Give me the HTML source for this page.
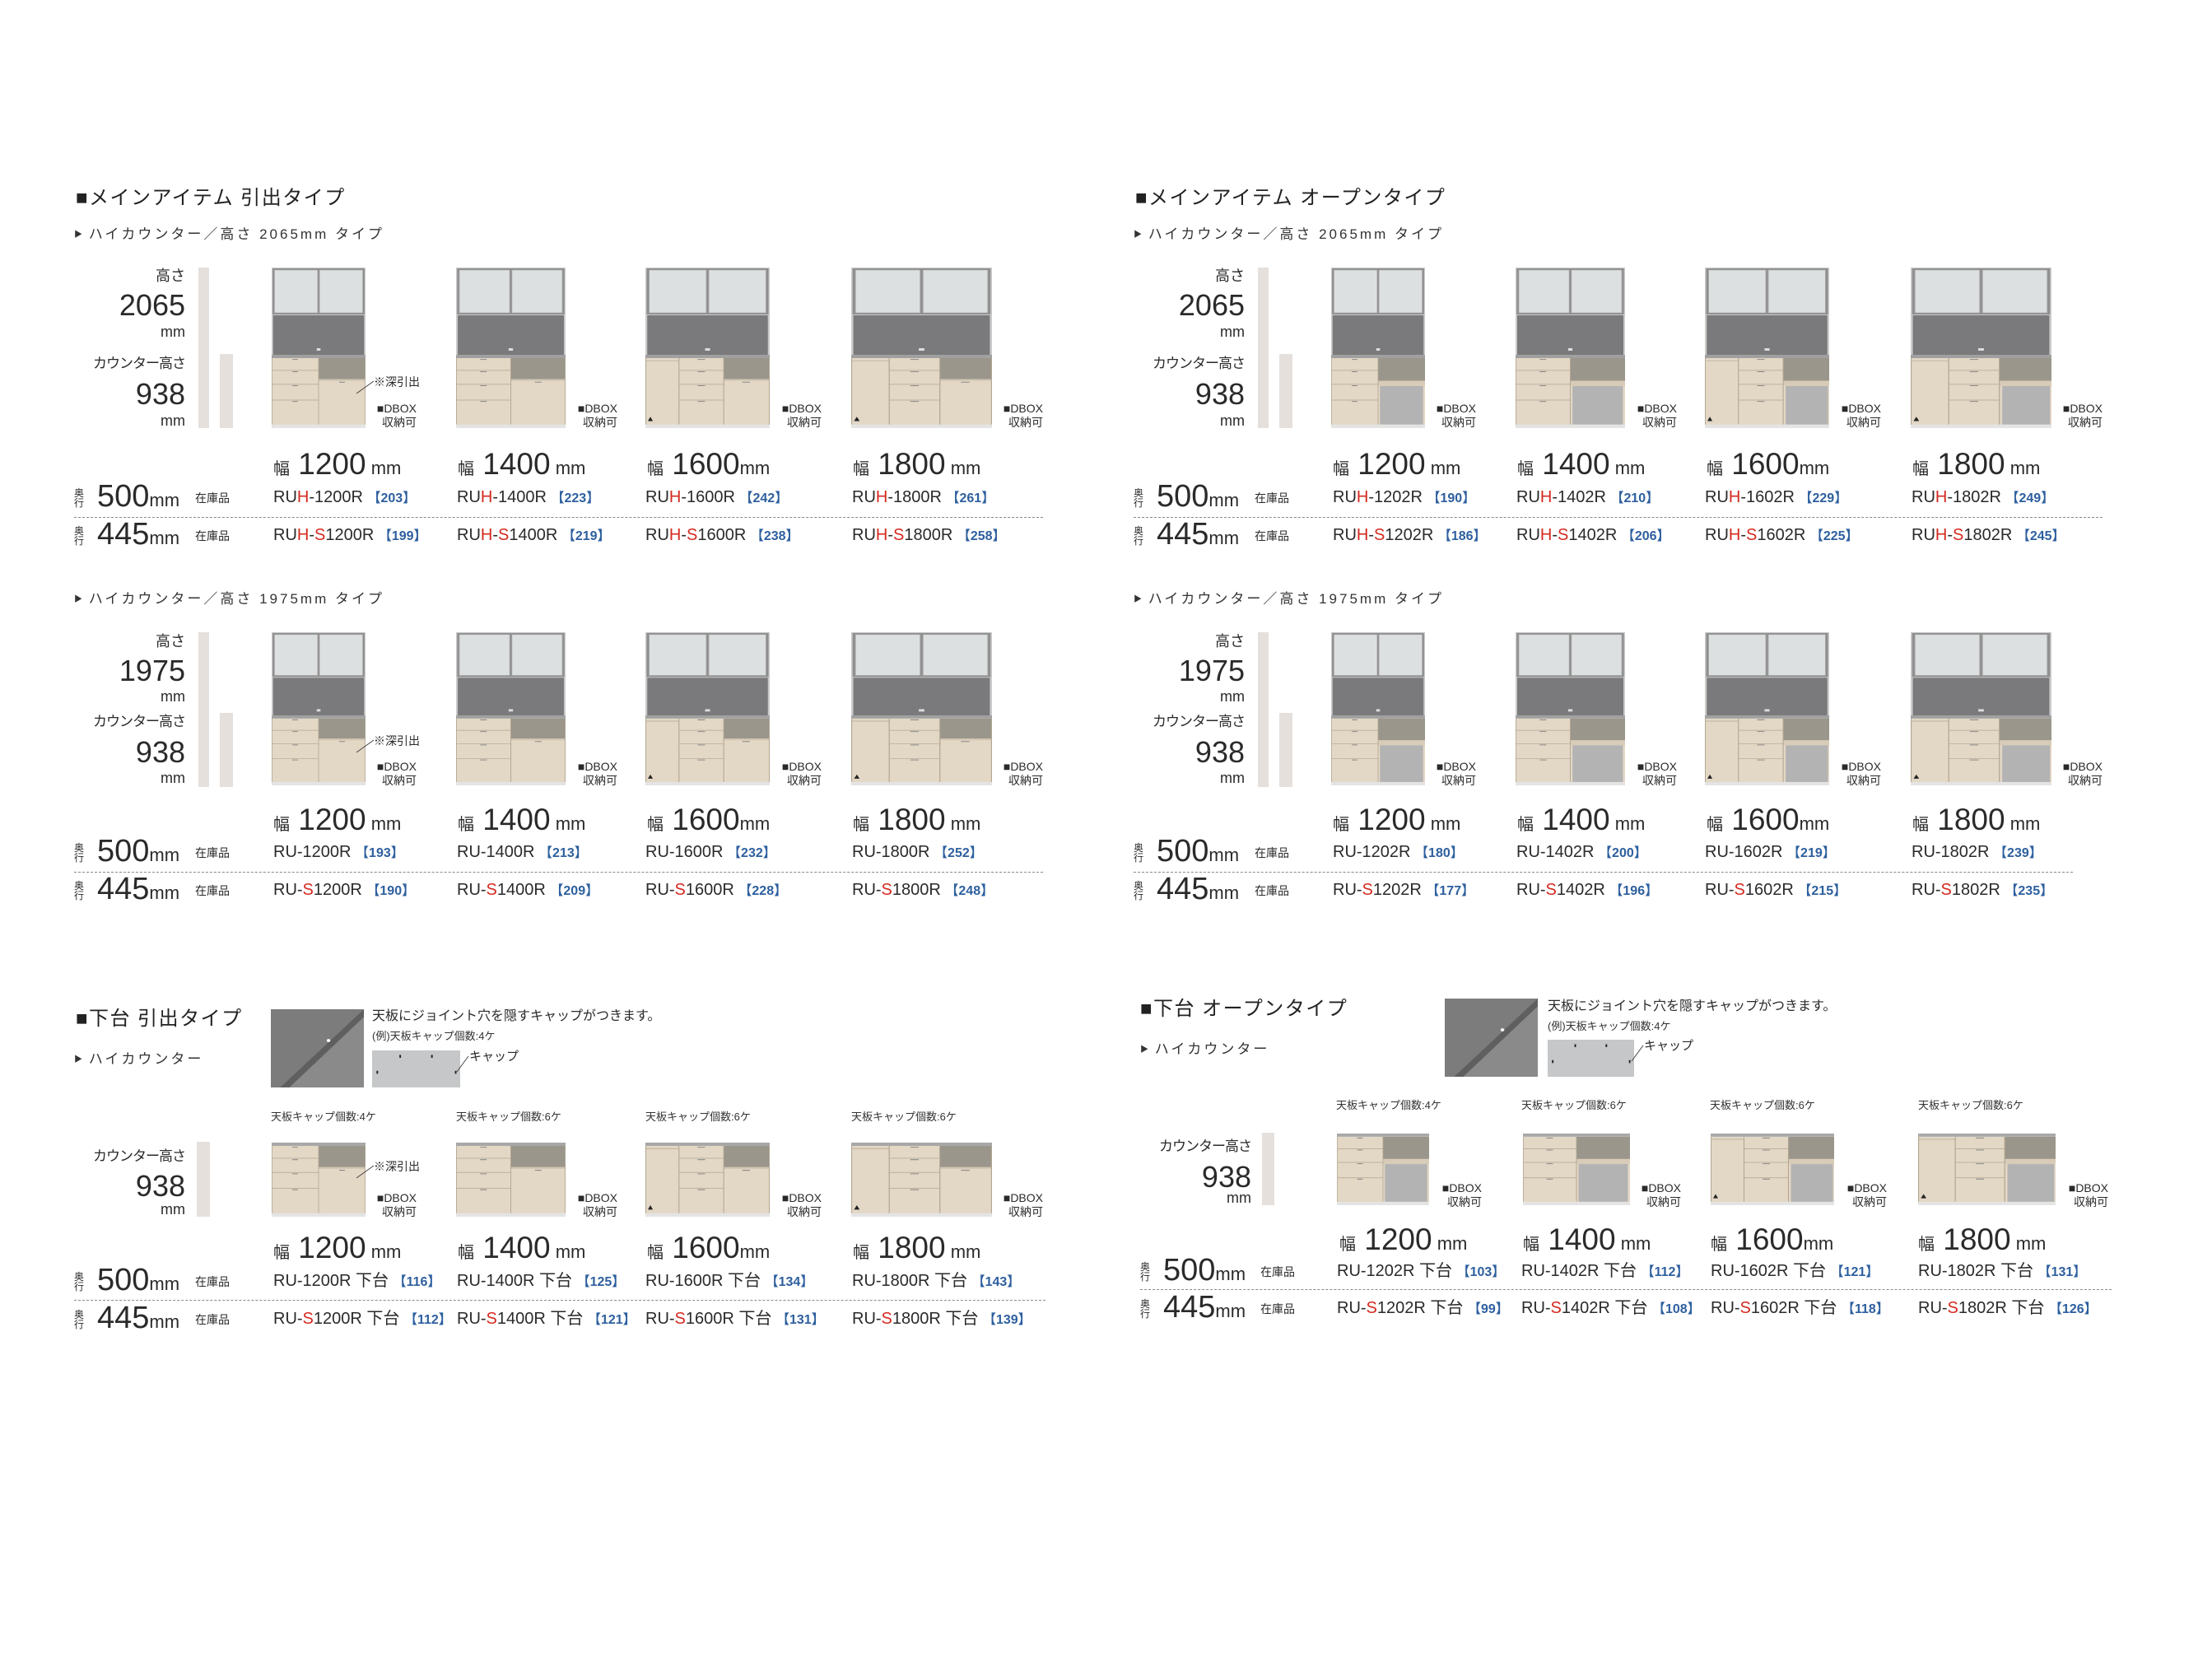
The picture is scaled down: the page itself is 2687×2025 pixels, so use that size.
<!DOCTYPE html>
<html><head><meta charset="utf-8">
<style>
html,body{margin:0;padding:0;background:#fff}
body{width:2687px;height:2025px;position:relative;overflow:hidden;font-family:"Liberation Sans","Noto Sans CJK JP",sans-serif}
.p{position:absolute;top:0;width:1400px;height:2025px}
.t{position:absolute;white-space:nowrap;line-height:1;color:#2a2a2a}
.r{text-align:right;width:300px}
.b{color:#2d5f9e;font-weight:bold;font-size:16px}
.h{color:#d52a20}
.m{font-size:20px}
.hd{font-size:24px;letter-spacing:1.5px;color:#222}
.sb{font-size:17px;letter-spacing:3px;color:#333}
.tri{font-size:10px;letter-spacing:0;vertical-align:2px}
.lb{font-size:18px}
.big{font-size:36px}
.cn{font-size:17px;letter-spacing:-1px}
.db{font-size:14px;text-align:right;width:100px;line-height:17px}
.wd{font-size:37px}
.wd .k{font-size:20px}
.wd .u{font-size:22px}
.ok{font-size:12px;line-height:12px}
.dp{font-size:38px}
.dp span{font-size:22px}
.zk{font-size:14px}
.bar{position:absolute;background:#e5e0dc}
.dash{position:absolute;height:0;border-top:1.5px dashed #8a8a8a}
svg.c{position:absolute}
.cap{font-size:13px;color:#333}
</style></head><body>
<svg width="0" height="0" style="position:absolute">
<defs>
<symbol id="up" viewBox="0 0 100 110" preserveAspectRatio="none">
<rect width="100" height="110" fill="#cbcbcb"/>
<rect x="1" y="1" width="98" height="56" fill="#8e8e8e"/>
<rect x="3" y="3" width="46" height="52" fill="#dde0e1" stroke="#a8a8a8" stroke-width=".6"/>
<rect x="51" y="3" width="46" height="52" fill="#dde0e1" stroke="#a8a8a8" stroke-width=".6"/>
<rect x="1.5" y="58" width="97" height="48" fill="#7a7a7c"/>
<rect x="48" y="98" width="4" height="3" fill="#ddd"/>
<rect x="0" y="106" width="100" height="4" fill="#a0a0a0"/>
</symbol>
<symbol id="l2p" viewBox="0 0 100 80" preserveAspectRatio="none">
<rect width="100" height="80" fill="#e3d7c5"/>
<rect x="50" y="0" width="50" height="24" fill="#9a968b"/>
<rect x="50" y="24" width="50" height="2" fill="#d2c6b3"/>
<path d="M0 14H50M0 30H50M0 48H50M50 0V76M0.3 0V76M99.7 0V76" stroke="#b2a692" stroke-width=".7" fill="none"/>
<path d="M22 1.5h6M22 15.5h6M22 31.5h6M22 49.5h6M72 27.5h6" stroke="#8a8a8a" stroke-width="1"/>
<rect y="76" width="100" height="4" fill="#e4e4e4"/>
</symbol>
<symbol id="l2o" viewBox="0 0 100 80" preserveAspectRatio="none">
<rect width="100" height="80" fill="#e3d7c5"/>
<rect x="50" y="0" width="50" height="26" fill="#9a968b"/>
<rect x="50" y="26" width="50" height="6" fill="#d8ccb8"/>
<rect x="52" y="32" width="46" height="44" fill="#b3b3b3"/>
<path d="M0 14H50M0 30H50M0 48H50M50 0V76M0.3 0V76" stroke="#b2a692" stroke-width=".7" fill="none"/>
<path d="M22 1.5h6M22 15.5h6M22 31.5h6M22 49.5h6" stroke="#8a8a8a" stroke-width="1"/>
<rect y="76" width="100" height="4" fill="#e4e4e4"/>
</symbol>
<symbol id="l3p" viewBox="0 0 100 80" preserveAspectRatio="none">
<rect width="100" height="80" fill="#e3d7c5"/>
<rect x="63" y="0" width="37" height="24" fill="#9a968b"/>
<rect x="63" y="24" width="37" height="2" fill="#d2c6b3"/>
<path d="M0 3H27M27 14H63M27 30H63M27 48H63M27 0V76M63 0V76M0.3 0V76M99.7 0V76" stroke="#b2a692" stroke-width=".7" fill="none"/>
<path d="M42 1.5h6M42 15.5h6M42 31.5h6M42 49.5h6M78 27.5h6" stroke="#8a8a8a" stroke-width="1"/>
<path d="M2 72L4 67L6 72Z" fill="#222"/>
<rect y="76" width="100" height="4" fill="#e4e4e4"/>
</symbol>
<symbol id="l3o" viewBox="0 0 100 80" preserveAspectRatio="none">
<rect width="100" height="80" fill="#e3d7c5"/>
<rect x="63" y="0" width="37" height="26" fill="#9a968b"/>
<rect x="63" y="26" width="37" height="6" fill="#d8ccb8"/>
<rect x="65" y="32" width="34" height="44" fill="#b3b3b3"/>
<path d="M0 3H27M27 14H63M27 30H63M27 48H63M27 0V76M63 0V76M0.3 0V76" stroke="#b2a692" stroke-width=".7" fill="none"/>
<path d="M42 1.5h6M42 15.5h6M42 31.5h6M42 49.5h6" stroke="#8a8a8a" stroke-width="1"/>
<path d="M2 72L4 67L6 72Z" fill="#222"/>
<rect y="76" width="100" height="4" fill="#e4e4e4"/>
</symbol>
<symbol id="conc" viewBox="0 0 100 100" preserveAspectRatio="none">
<rect width="100" height="100" fill="#8f8f8f"/>
<path d="M0 0H100V0L10 100H0Z" fill="#7c7c7c"/>
<path d="M100 0V10L20 100H10Z" fill="#5f5f5f"/>
<path d="M100 10V100H20Z" fill="#8a8a8a"/>
<circle cx="62" cy="40" r="2" fill="#fff"/>
</symbol>
<symbol id="capr" viewBox="0 0 100 100" preserveAspectRatio="none">
<rect width="100" height="100" fill="#c6c7c9"/>
<rect x="31" y="12" width="1.8" height="8" fill="#222"/>
<rect x="67" y="12" width="1.8" height="8" fill="#222"/>
<rect x="5" y="55" width="1.8" height="8" fill="#222"/>
<rect x="94" y="55" width="1.8" height="8" fill="#222"/>
</symbol>
</defs></svg>

<!-- LEFT PANEL -->
<div class="p" style="left:0">
<div class="t hd" style="left:92px;top:229px">■メインアイテム 引出タイプ</div>
<div class="t sb" style="left:90px;top:276px"><span class="tri">▶</span> ハイカウンター／高さ 2065mm タイプ</div>
<div class="t r lb" style="left:-75px;top:326px">高さ</div>
<div class="t r big" style="left:-75px;top:353px">2065</div>
<div class="t r lb" style="left:-75px;top:394px">mm</div>
<div class="t r cn" style="left:-75px;top:433px">カウンター高さ</div>
<div class="t r big" style="left:-75px;top:461px">938</div>
<div class="t r lb" style="left:-75px;top:502px">mm</div>
<div class="bar" style="left:241px;top:325px;width:13px;height:195px"></div>
<div class="bar" style="left:267px;top:430px;width:16px;height:90px"></div>
<svg class="c" style="left:330px;top:325px;width:114px;height:195px" viewBox="0 0 100 195" preserveAspectRatio="none"><use href="#up" x="0" y="0" width="100" height="110"/><use href="#l2p" x="0" y="110" width="100" height="85"/></svg>
<svg class="c" style="left:554px;top:325px;width:133px;height:195px" viewBox="0 0 100 195" preserveAspectRatio="none"><use href="#up" x="0" y="0" width="100" height="110"/><use href="#l2p" x="0" y="110" width="100" height="85"/></svg>
<svg class="c" style="left:784px;top:325px;width:151px;height:195px" viewBox="0 0 100 195" preserveAspectRatio="none"><use href="#up" x="0" y="0" width="100" height="110"/><use href="#l3p" x="0" y="110" width="100" height="85"/></svg>
<svg class="c" style="left:1034px;top:325px;width:171px;height:195px" viewBox="0 0 100 195" preserveAspectRatio="none"><use href="#up" x="0" y="0" width="100" height="110"/><use href="#l3p" x="0" y="110" width="100" height="85"/></svg>
<svg class="c" style="left:430px;top:460px;width:26px;height:20px" viewBox="0 0 26 20"><path d="M3 18L24 3" stroke="#444" stroke-width="1"/></svg>
<div class="t" style="left:454px;top:457px;font-size:14px">※深引出</div>
<div class="t db" style="left:406px;top:488px">■DBOX<br>収納可</div>
<div class="t db" style="left:650px;top:488px">■DBOX<br>収納可</div>
<div class="t db" style="left:898px;top:488px">■DBOX<br>収納可</div>
<div class="t db" style="left:1167px;top:488px">■DBOX<br>収納可</div>
<div class="t wd" style="left:332px;top:545px"><span class="k">幅</span> 1200<span class="u"> mm</span></div>
<div class="t wd" style="left:556px;top:545px"><span class="k">幅</span> 1400<span class="u"> mm</span></div>
<div class="t wd" style="left:786px;top:545px"><span class="k">幅</span> 1600<span class="u">mm</span></div>
<div class="t wd" style="left:1036px;top:545px"><span class="k">幅</span> 1800<span class="u"> mm</span></div>
<div class="t ok" style="left:90px;top:593px">奥<br>行</div>
<div class="t dp" style="left:118px;top:584px">500<span>mm</span></div>
<div class="t zk" style="left:237px;top:598px">在庫品</div>
<div class="t m" style="left:332px;top:594px">RU<span class="h">H</span>-1200R <span class="b">【203】</span></div>
<div class="t m" style="left:555px;top:594px">RU<span class="h">H</span>-1400R <span class="b">【223】</span></div>
<div class="t m" style="left:784px;top:594px">RU<span class="h">H</span>-1600R <span class="b">【242】</span></div>
<div class="t m" style="left:1035px;top:594px">RU<span class="h">H</span>-1800R <span class="b">【261】</span></div>
<div class="dash" style="left:90px;top:628px;width:1177px"></div>
<div class="t ok" style="left:90px;top:639px">奥<br>行</div>
<div class="t dp" style="left:118px;top:630px">445<span>mm</span></div>
<div class="t zk" style="left:237px;top:644px">在庫品</div>
<div class="t m" style="left:332px;top:640px">RU<span class="h">H</span>-<span class="h">S</span>1200R <span class="b">【199】</span></div>
<div class="t m" style="left:555px;top:640px">RU<span class="h">H</span>-<span class="h">S</span>1400R <span class="b">【219】</span></div>
<div class="t m" style="left:784px;top:640px">RU<span class="h">H</span>-<span class="h">S</span>1600R <span class="b">【238】</span></div>
<div class="t m" style="left:1035px;top:640px">RU<span class="h">H</span>-<span class="h">S</span>1800R <span class="b">【258】</span></div>

<div class="t sb" style="left:90px;top:719px"><span class="tri">▶</span> ハイカウンター／高さ 1975mm タイプ</div>
<div class="t r lb" style="left:-75px;top:770px">高さ</div>
<div class="t r big" style="left:-75px;top:797px">1975</div>
<div class="t r lb" style="left:-75px;top:837px">mm</div>
<div class="t r cn" style="left:-75px;top:868px">カウンター高さ</div>
<div class="t r big" style="left:-75px;top:896px">938</div>
<div class="t r lb" style="left:-75px;top:936px">mm</div>
<div class="bar" style="left:241px;top:768px;width:13px;height:188px"></div>
<div class="bar" style="left:267px;top:866px;width:16px;height:90px"></div>
<svg class="c" style="left:330px;top:768px;width:114px;height:186px" viewBox="0 0 100 195" preserveAspectRatio="none"><use href="#up" x="0" y="0" width="100" height="110"/><use href="#l2p" x="0" y="110" width="100" height="85"/></svg>
<svg class="c" style="left:554px;top:768px;width:133px;height:186px" viewBox="0 0 100 195" preserveAspectRatio="none"><use href="#up" x="0" y="0" width="100" height="110"/><use href="#l2p" x="0" y="110" width="100" height="85"/></svg>
<svg class="c" style="left:784px;top:768px;width:151px;height:186px" viewBox="0 0 100 195" preserveAspectRatio="none"><use href="#up" x="0" y="0" width="100" height="110"/><use href="#l3p" x="0" y="110" width="100" height="85"/></svg>
<svg class="c" style="left:1034px;top:768px;width:171px;height:186px" viewBox="0 0 100 195" preserveAspectRatio="none"><use href="#up" x="0" y="0" width="100" height="110"/><use href="#l3p" x="0" y="110" width="100" height="85"/></svg>
<svg class="c" style="left:430px;top:896px;width:26px;height:20px" viewBox="0 0 26 20"><path d="M3 18L24 3" stroke="#444" stroke-width="1"/></svg>
<div class="t" style="left:454px;top:893px;font-size:14px">※深引出</div>
<div class="t db" style="left:406px;top:923px">■DBOX<br>収納可</div>
<div class="t db" style="left:650px;top:923px">■DBOX<br>収納可</div>
<div class="t db" style="left:898px;top:923px">■DBOX<br>収納可</div>
<div class="t db" style="left:1167px;top:923px">■DBOX<br>収納可</div>
<div class="t wd" style="left:332px;top:977px"><span class="k">幅</span> 1200<span class="u"> mm</span></div>
<div class="t wd" style="left:556px;top:977px"><span class="k">幅</span> 1400<span class="u"> mm</span></div>
<div class="t wd" style="left:786px;top:977px"><span class="k">幅</span> 1600<span class="u">mm</span></div>
<div class="t wd" style="left:1036px;top:977px"><span class="k">幅</span> 1800<span class="u"> mm</span></div>
<div class="t ok" style="left:90px;top:1024px">奥<br>行</div>
<div class="t dp" style="left:118px;top:1015px">500<span>mm</span></div>
<div class="t zk" style="left:237px;top:1029px">在庫品</div>
<div class="t m" style="left:332px;top:1025px">RU-1200R <span class="b">【193】</span></div>
<div class="t m" style="left:555px;top:1025px">RU-1400R <span class="b">【213】</span></div>
<div class="t m" style="left:784px;top:1025px">RU-1600R <span class="b">【232】</span></div>
<div class="t m" style="left:1035px;top:1025px">RU-1800R <span class="b">【252】</span></div>
<div class="dash" style="left:90px;top:1059px;width:1177px"></div>
<div class="t ok" style="left:90px;top:1070px">奥<br>行</div>
<div class="t dp" style="left:118px;top:1061px">445<span>mm</span></div>
<div class="t zk" style="left:237px;top:1075px">在庫品</div>
<div class="t m" style="left:332px;top:1071px">RU-<span class="h">S</span>1200R <span class="b">【190】</span></div>
<div class="t m" style="left:555px;top:1071px">RU-<span class="h">S</span>1400R <span class="b">【209】</span></div>
<div class="t m" style="left:784px;top:1071px">RU-<span class="h">S</span>1600R <span class="b">【228】</span></div>
<div class="t m" style="left:1035px;top:1071px">RU-<span class="h">S</span>1800R <span class="b">【248】</span></div>

<!-- section C left -->
<div class="t hd" style="left:92px;top:1226px">■下台 引出タイプ</div>
<div class="t sb" style="left:90px;top:1278px"><span class="tri">▶</span> ハイカウンター</div>
<svg class="c" style="left:329px;top:1226px;width:113px;height:95px" viewBox="0 0 100 100" preserveAspectRatio="none"><use href="#conc" width="100" height="100"/></svg>
<div class="t" style="left:452px;top:1227px;font-size:16px">天板にジョイント穴を隠すキャップがつきます。</div>
<div class="t cap" style="left:452px;top:1252px">(例)天板キャップ個数:4ケ</div>
<svg class="c" style="left:452px;top:1276px;width:107px;height:45px" viewBox="0 0 100 100" preserveAspectRatio="none"><use href="#capr" width="100" height="100"/></svg>
<svg class="c" style="left:552px;top:1280px;width:20px;height:24px" viewBox="0 0 20 24"><path d="M3 22L17 3" stroke="#444" stroke-width="1"/></svg>
<div class="t" style="left:570px;top:1276px;font-size:15px">キャップ</div>
<div class="t cap" style="left:329px;top:1350px">天板キャップ個数:4ケ</div>
<div class="t cap" style="left:554px;top:1350px">天板キャップ個数:6ケ</div>
<div class="t cap" style="left:784px;top:1350px">天板キャップ個数:6ケ</div>
<div class="t cap" style="left:1034px;top:1350px">天板キャップ個数:6ケ</div>
<div class="t r cn" style="left:-75px;top:1396px">カウンター高さ</div>
<div class="t r big" style="left:-75px;top:1423px">938</div>
<div class="t r lb" style="left:-75px;top:1460px">mm</div>
<div class="bar" style="left:239px;top:1387px;width:16px;height:91px"></div>
<svg class="c" style="left:330px;top:1388px;width:114px;height:90px" viewBox="0 0 100 90" preserveAspectRatio="none"><rect width="100" height="4" fill="#a8a8a8"/><use href="#l2p" x="0" y="4" width="100" height="86"/></svg>
<svg class="c" style="left:554px;top:1388px;width:133px;height:90px" viewBox="0 0 100 90" preserveAspectRatio="none"><rect width="100" height="4" fill="#a8a8a8"/><use href="#l2p" x="0" y="4" width="100" height="86"/></svg>
<svg class="c" style="left:784px;top:1388px;width:151px;height:90px" viewBox="0 0 100 90" preserveAspectRatio="none"><rect width="100" height="4" fill="#a8a8a8"/><use href="#l3p" x="0" y="4" width="100" height="86"/></svg>
<svg class="c" style="left:1034px;top:1388px;width:171px;height:90px" viewBox="0 0 100 90" preserveAspectRatio="none"><rect width="100" height="4" fill="#a8a8a8"/><use href="#l3p" x="0" y="4" width="100" height="86"/></svg>
<svg class="c" style="left:430px;top:1413px;width:26px;height:20px" viewBox="0 0 26 20"><path d="M3 18L24 3" stroke="#444" stroke-width="1"/></svg>
<div class="t" style="left:454px;top:1410px;font-size:14px">※深引出</div>
<div class="t db" style="left:406px;top:1447px">■DBOX<br>収納可</div>
<div class="t db" style="left:650px;top:1447px">■DBOX<br>収納可</div>
<div class="t db" style="left:898px;top:1447px">■DBOX<br>収納可</div>
<div class="t db" style="left:1167px;top:1447px">■DBOX<br>収納可</div>
<div class="t wd" style="left:332px;top:1497px"><span class="k">幅</span> 1200<span class="u"> mm</span></div>
<div class="t wd" style="left:556px;top:1497px"><span class="k">幅</span> 1400<span class="u"> mm</span></div>
<div class="t wd" style="left:786px;top:1497px"><span class="k">幅</span> 1600<span class="u">mm</span></div>
<div class="t wd" style="left:1036px;top:1497px"><span class="k">幅</span> 1800<span class="u"> mm</span></div>
<div class="t ok" style="left:90px;top:1545px">奥<br>行</div>
<div class="t dp" style="left:118px;top:1536px">500<span>mm</span></div>
<div class="t zk" style="left:237px;top:1550px">在庫品</div>
<div class="t m" style="left:332px;top:1546px">RU-1200R 下台 <span class="b">【116】</span></div>
<div class="t m" style="left:555px;top:1546px">RU-1400R 下台 <span class="b">【125】</span></div>
<div class="t m" style="left:784px;top:1546px">RU-1600R 下台 <span class="b">【134】</span></div>
<div class="t m" style="left:1035px;top:1546px">RU-1800R 下台 <span class="b">【143】</span></div>
<div class="dash" style="left:90px;top:1579px;width:1180px"></div>
<div class="t ok" style="left:90px;top:1591px">奥<br>行</div>
<div class="t dp" style="left:118px;top:1582px">445<span>mm</span></div>
<div class="t zk" style="left:237px;top:1596px">在庫品</div>
<div class="t m" style="left:332px;top:1592px">RU-<span class="h">S</span>1200R 下台 <span class="b">【112】</span></div>
<div class="t m" style="left:555px;top:1592px">RU-<span class="h">S</span>1400R 下台 <span class="b">【121】</span></div>
<div class="t m" style="left:784px;top:1592px">RU-<span class="h">S</span>1600R 下台 <span class="b">【131】</span></div>
<div class="t m" style="left:1035px;top:1592px">RU-<span class="h">S</span>1800R 下台 <span class="b">【139】</span></div>
</div>

<!-- RIGHT PANEL (offset 1287) -->
<div class="p" style="left:1287px">
<div class="t hd" style="left:92px;top:229px">■メインアイテム オープンタイプ</div>
<div class="t sb" style="left:90px;top:276px"><span class="tri">▶</span> ハイカウンター／高さ 2065mm タイプ</div>
<div class="t r lb" style="left:-75px;top:326px">高さ</div>
<div class="t r big" style="left:-75px;top:353px">2065</div>
<div class="t r lb" style="left:-75px;top:394px">mm</div>
<div class="t r cn" style="left:-75px;top:433px">カウンター高さ</div>
<div class="t r big" style="left:-75px;top:461px">938</div>
<div class="t r lb" style="left:-75px;top:502px">mm</div>
<div class="bar" style="left:241px;top:325px;width:13px;height:195px"></div>
<div class="bar" style="left:267px;top:430px;width:16px;height:90px"></div>
<svg class="c" style="left:330px;top:325px;width:114px;height:195px" viewBox="0 0 100 195" preserveAspectRatio="none"><use href="#up" x="0" y="0" width="100" height="110"/><use href="#l2o" x="0" y="110" width="100" height="85"/></svg>
<svg class="c" style="left:554px;top:325px;width:133px;height:195px" viewBox="0 0 100 195" preserveAspectRatio="none"><use href="#up" x="0" y="0" width="100" height="110"/><use href="#l2o" x="0" y="110" width="100" height="85"/></svg>
<svg class="c" style="left:784px;top:325px;width:151px;height:195px" viewBox="0 0 100 195" preserveAspectRatio="none"><use href="#up" x="0" y="0" width="100" height="110"/><use href="#l3o" x="0" y="110" width="100" height="85"/></svg>
<svg class="c" style="left:1034px;top:325px;width:171px;height:195px" viewBox="0 0 100 195" preserveAspectRatio="none"><use href="#up" x="0" y="0" width="100" height="110"/><use href="#l3o" x="0" y="110" width="100" height="85"/></svg>
<div class="t db" style="left:406px;top:488px">■DBOX<br>収納可</div>
<div class="t db" style="left:650px;top:488px">■DBOX<br>収納可</div>
<div class="t db" style="left:898px;top:488px">■DBOX<br>収納可</div>
<div class="t db" style="left:1167px;top:488px">■DBOX<br>収納可</div>
<div class="t wd" style="left:332px;top:545px"><span class="k">幅</span> 1200<span class="u"> mm</span></div>
<div class="t wd" style="left:556px;top:545px"><span class="k">幅</span> 1400<span class="u"> mm</span></div>
<div class="t wd" style="left:786px;top:545px"><span class="k">幅</span> 1600<span class="u">mm</span></div>
<div class="t wd" style="left:1036px;top:545px"><span class="k">幅</span> 1800<span class="u"> mm</span></div>
<div class="t ok" style="left:90px;top:593px">奥<br>行</div>
<div class="t dp" style="left:118px;top:584px">500<span>mm</span></div>
<div class="t zk" style="left:237px;top:598px">在庫品</div>
<div class="t m" style="left:332px;top:594px">RU<span class="h">H</span>-1202R <span class="b">【190】</span></div>
<div class="t m" style="left:555px;top:594px">RU<span class="h">H</span>-1402R <span class="b">【210】</span></div>
<div class="t m" style="left:784px;top:594px">RU<span class="h">H</span>-1602R <span class="b">【229】</span></div>
<div class="t m" style="left:1035px;top:594px">RU<span class="h">H</span>-1802R <span class="b">【249】</span></div>
<div class="dash" style="left:90px;top:628px;width:1177px"></div>
<div class="t ok" style="left:90px;top:639px">奥<br>行</div>
<div class="t dp" style="left:118px;top:630px">445<span>mm</span></div>
<div class="t zk" style="left:237px;top:644px">在庫品</div>
<div class="t m" style="left:332px;top:640px">RU<span class="h">H</span>-<span class="h">S</span>1202R <span class="b">【186】</span></div>
<div class="t m" style="left:555px;top:640px">RU<span class="h">H</span>-<span class="h">S</span>1402R <span class="b">【206】</span></div>
<div class="t m" style="left:784px;top:640px">RU<span class="h">H</span>-<span class="h">S</span>1602R <span class="b">【225】</span></div>
<div class="t m" style="left:1035px;top:640px">RU<span class="h">H</span>-<span class="h">S</span>1802R <span class="b">【245】</span></div>

<div class="t sb" style="left:90px;top:719px"><span class="tri">▶</span> ハイカウンター／高さ 1975mm タイプ</div>
<div class="t r lb" style="left:-75px;top:770px">高さ</div>
<div class="t r big" style="left:-75px;top:797px">1975</div>
<div class="t r lb" style="left:-75px;top:837px">mm</div>
<div class="t r cn" style="left:-75px;top:868px">カウンター高さ</div>
<div class="t r big" style="left:-75px;top:896px">938</div>
<div class="t r lb" style="left:-75px;top:936px">mm</div>
<div class="bar" style="left:241px;top:768px;width:13px;height:188px"></div>
<div class="bar" style="left:267px;top:866px;width:16px;height:90px"></div>
<svg class="c" style="left:330px;top:768px;width:114px;height:186px" viewBox="0 0 100 195" preserveAspectRatio="none"><use href="#up" x="0" y="0" width="100" height="110"/><use href="#l2o" x="0" y="110" width="100" height="85"/></svg>
<svg class="c" style="left:554px;top:768px;width:133px;height:186px" viewBox="0 0 100 195" preserveAspectRatio="none"><use href="#up" x="0" y="0" width="100" height="110"/><use href="#l2o" x="0" y="110" width="100" height="85"/></svg>
<svg class="c" style="left:784px;top:768px;width:151px;height:186px" viewBox="0 0 100 195" preserveAspectRatio="none"><use href="#up" x="0" y="0" width="100" height="110"/><use href="#l3o" x="0" y="110" width="100" height="85"/></svg>
<svg class="c" style="left:1034px;top:768px;width:171px;height:186px" viewBox="0 0 100 195" preserveAspectRatio="none"><use href="#up" x="0" y="0" width="100" height="110"/><use href="#l3o" x="0" y="110" width="100" height="85"/></svg>
<div class="t db" style="left:406px;top:923px">■DBOX<br>収納可</div>
<div class="t db" style="left:650px;top:923px">■DBOX<br>収納可</div>
<div class="t db" style="left:898px;top:923px">■DBOX<br>収納可</div>
<div class="t db" style="left:1167px;top:923px">■DBOX<br>収納可</div>
<div class="t wd" style="left:332px;top:977px"><span class="k">幅</span> 1200<span class="u"> mm</span></div>
<div class="t wd" style="left:556px;top:977px"><span class="k">幅</span> 1400<span class="u"> mm</span></div>
<div class="t wd" style="left:786px;top:977px"><span class="k">幅</span> 1600<span class="u">mm</span></div>
<div class="t wd" style="left:1036px;top:977px"><span class="k">幅</span> 1800<span class="u"> mm</span></div>
<div class="t ok" style="left:90px;top:1024px">奥<br>行</div>
<div class="t dp" style="left:118px;top:1015px">500<span>mm</span></div>
<div class="t zk" style="left:237px;top:1029px">在庫品</div>
<div class="t m" style="left:332px;top:1025px">RU-1202R <span class="b">【180】</span></div>
<div class="t m" style="left:555px;top:1025px">RU-1402R <span class="b">【200】</span></div>
<div class="t m" style="left:784px;top:1025px">RU-1602R <span class="b">【219】</span></div>
<div class="t m" style="left:1035px;top:1025px">RU-1802R <span class="b">【239】</span></div>
<div class="dash" style="left:90px;top:1059px;width:1141px"></div>
<div class="t ok" style="left:90px;top:1070px">奥<br>行</div>
<div class="t dp" style="left:118px;top:1061px">445<span>mm</span></div>
<div class="t zk" style="left:237px;top:1075px">在庫品</div>
<div class="t m" style="left:332px;top:1071px">RU-<span class="h">S</span>1202R <span class="b">【177】</span></div>
<div class="t m" style="left:555px;top:1071px">RU-<span class="h">S</span>1402R <span class="b">【196】</span></div>
<div class="t m" style="left:784px;top:1071px">RU-<span class="h">S</span>1602R <span class="b">【215】</span></div>
<div class="t m" style="left:1035px;top:1071px">RU-<span class="h">S</span>1802R <span class="b">【235】</span></div>
</div>

<!-- section C right (page coords) -->
<div class="t hd" style="left:1385px;top:1214px">■下台 オープンタイプ</div>
<div class="t sb" style="left:1385px;top:1266px"><span class="tri">▶</span> ハイカウンター</div>
<svg class="c" style="left:1755px;top:1213px;width:113px;height:95px" viewBox="0 0 100 100" preserveAspectRatio="none"><use href="#conc" width="100" height="100"/></svg>
<div class="t" style="left:1880px;top:1215px;font-size:16px">天板にジョイント穴を隠すキャップがつきます。</div>
<div class="t cap" style="left:1880px;top:1240px">(例)天板キャップ個数:4ケ</div>
<svg class="c" style="left:1880px;top:1263px;width:105px;height:45px" viewBox="0 0 100 100" preserveAspectRatio="none"><use href="#capr" width="100" height="100"/></svg>
<svg class="c" style="left:1979px;top:1267px;width:20px;height:24px" viewBox="0 0 20 24"><path d="M3 22L17 3" stroke="#444" stroke-width="1"/></svg>
<div class="t" style="left:1997px;top:1263px;font-size:15px">キャップ</div>
<div class="t cap" style="left:1623px;top:1336px">天板キャップ個数:4ケ</div>
<div class="t cap" style="left:1848px;top:1336px">天板キャップ個数:6ケ</div>
<div class="t cap" style="left:2077px;top:1336px">天板キャップ個数:6ケ</div>
<div class="t cap" style="left:2330px;top:1336px">天板キャップ個数:6ケ</div>
<div class="t r cn" style="left:1220px;top:1384px">カウンター高さ</div>
<div class="t r big" style="left:1220px;top:1412px">938</div>
<div class="t r lb" style="left:1220px;top:1446px">mm</div>
<div class="bar" style="left:1533px;top:1376px;width:15px;height:88px"></div>
<svg class="c" style="left:1624px;top:1377px;width:112px;height:87px" viewBox="0 0 100 90" preserveAspectRatio="none"><rect width="100" height="4" fill="#a8a8a8"/><use href="#l2o" x="0" y="4" width="100" height="86"/></svg>
<svg class="c" style="left:1850px;top:1377px;width:130px;height:87px" viewBox="0 0 100 90" preserveAspectRatio="none"><rect width="100" height="4" fill="#a8a8a8"/><use href="#l2o" x="0" y="4" width="100" height="86"/></svg>
<svg class="c" style="left:2078px;top:1377px;width:150px;height:87px" viewBox="0 0 100 90" preserveAspectRatio="none"><rect width="100" height="4" fill="#a8a8a8"/><use href="#l3o" x="0" y="4" width="100" height="86"/></svg>
<svg class="c" style="left:2330px;top:1377px;width:167px;height:87px" viewBox="0 0 100 90" preserveAspectRatio="none"><rect width="100" height="4" fill="#a8a8a8"/><use href="#l3o" x="0" y="4" width="100" height="86"/></svg>
<div class="t db" style="left:1700px;top:1435px">■DBOX<br>収納可</div>
<div class="t db" style="left:1942px;top:1435px">■DBOX<br>収納可</div>
<div class="t db" style="left:2192px;top:1435px">■DBOX<br>収納可</div>
<div class="t db" style="left:2461px;top:1435px">■DBOX<br>収納可</div>
<div class="t wd" style="left:1627px;top:1487px"><span class="k">幅</span> 1200<span class="u"> mm</span></div>
<div class="t wd" style="left:1850px;top:1487px"><span class="k">幅</span> 1400<span class="u"> mm</span></div>
<div class="t wd" style="left:2078px;top:1487px"><span class="k">幅</span> 1600<span class="u">mm</span></div>
<div class="t wd" style="left:2330px;top:1487px"><span class="k">幅</span> 1800<span class="u"> mm</span></div>
<div class="t ok" style="left:1385px;top:1533px">奥<br>行</div>
<div class="t dp" style="left:1413px;top:1524px">500<span>mm</span></div>
<div class="t zk" style="left:1531px;top:1538px">在庫品</div>
<div class="t m" style="left:1624px;top:1534px">RU-1202R 下台 <span class="b">【103】</span></div>
<div class="t m" style="left:1848px;top:1534px">RU-1402R 下台 <span class="b">【112】</span></div>
<div class="t m" style="left:2078px;top:1534px">RU-1602R 下台 <span class="b">【121】</span></div>
<div class="t m" style="left:2330px;top:1534px">RU-1802R 下台 <span class="b">【131】</span></div>
<div class="dash" style="left:1385px;top:1566px;width:1180px"></div>
<div class="t ok" style="left:1385px;top:1578px">奥<br>行</div>
<div class="t dp" style="left:1413px;top:1569px">445<span>mm</span></div>
<div class="t zk" style="left:1531px;top:1583px">在庫品</div>
<div class="t m" style="left:1624px;top:1579px">RU-<span class="h">S</span>1202R 下台 <span class="b">【99】</span></div>
<div class="t m" style="left:1848px;top:1579px">RU-<span class="h">S</span>1402R 下台 <span class="b">【108】</span></div>
<div class="t m" style="left:2078px;top:1579px">RU-<span class="h">S</span>1602R 下台 <span class="b">【118】</span></div>
<div class="t m" style="left:2330px;top:1579px">RU-<span class="h">S</span>1802R 下台 <span class="b">【126】</span></div>
</body></html>
